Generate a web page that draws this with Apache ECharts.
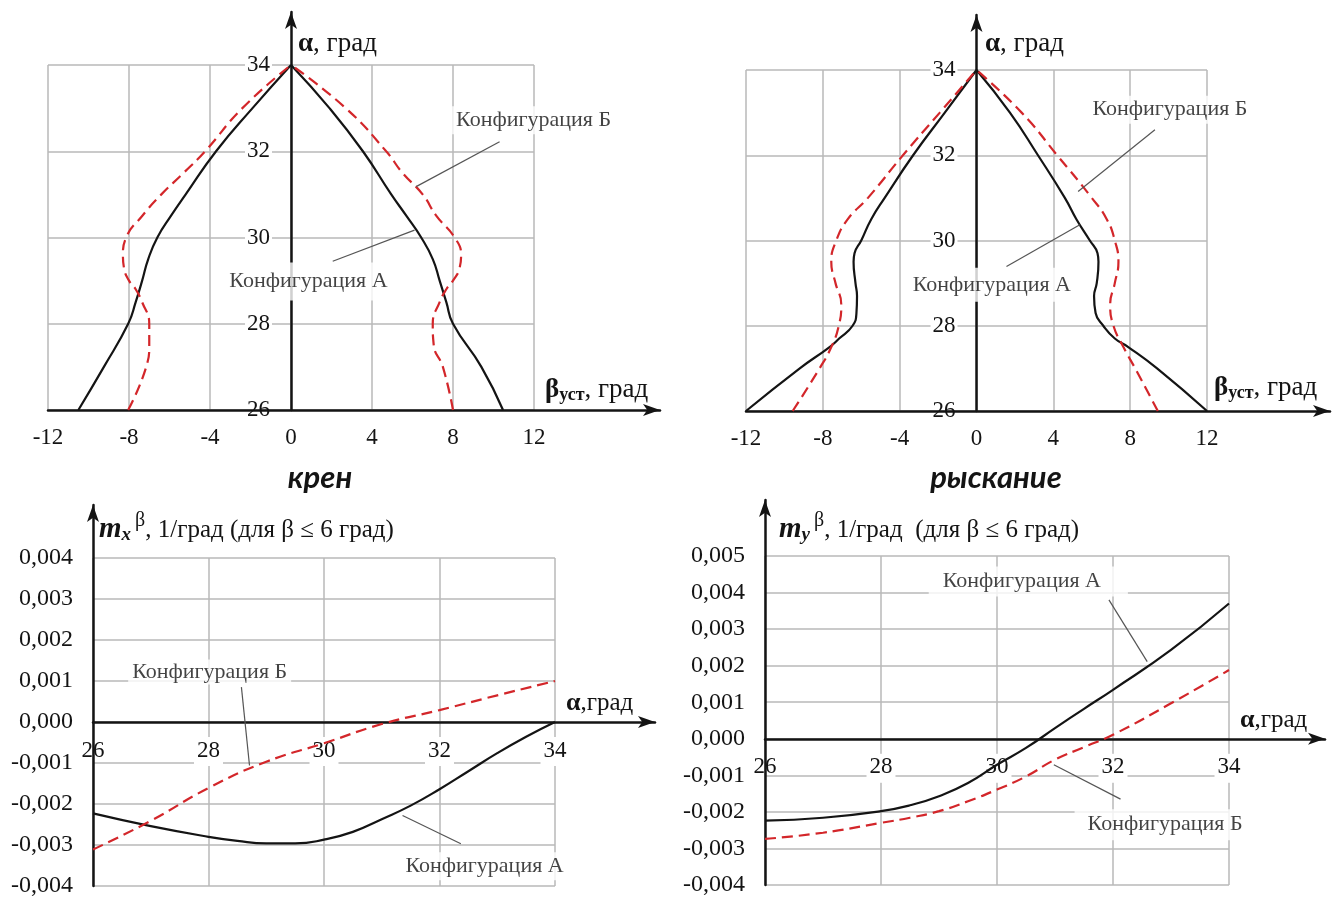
<!DOCTYPE html>
<html>
<head>
<meta charset="utf-8">
<script src="https://cdn.jsdelivr.net/npm/echarts@6/dist/echarts.min.js"></script>
<style>
  html, body { margin: 0; background: #fff; }
  #chart { width: 1341px; height: 899px; }
</style>
</head>
<body>
<div id="chart"></div>
<script>
const SERIF = '"Liberation Serif", "Times New Roman", serif';
const RED = '#d3262a';
const INK = '#141414';
const GRID_C = '#b8b8b8';

// ---- крен (top left): beta_уст vs alpha
const rollAlphaA = [26, 27, 28, 28.5, 29, 29.5, 30, 30.5, 31, 32, 33, 34];
const rollA_left = [-10.5, -9.24, -8.04, -7.67, -7.35, -7.05, -6.6, -5.93, -5.2, -3.7, -1.9, 0];
const rollA_right = [10.47, 9.4, 8.0, 7.67, 7.34, 7.0, 6.43, 5.7, 4.95, 3.55, 1.9, 0];
const rollAlphaB = [26, 27, 27.5, 28, 28.5, 28.8, 29, 29.3, 29.6, 30, 30.5, 31, 31.5, 32, 33, 34];
const rollB_left = [-8.04, -7.15, -7.0, -7.0, -7.35, -7.67, -8.0, -8.25, -8.3, -8.14, -7.35, -6.4, -5.3, -4.24, -2.4, 0];
const rollB_right = [8.0, 7.5, 7.05, 7.0, 7.34, 7.67, 8.0, 8.33, 8.4, 8.08, 7.18, 6.5, 5.5, 4.7, 2.7, 0];

// ---- рыскание (top right)
const yawAlphaA = [26, 27, 27.5, 27.7, 28, 28.3, 28.7, 29, 29.5, 29.7, 30, 30.5, 31, 32, 33, 34];
const yawA_left = [-12, -9.2, -7.65, -7.15, -6.45, -6.25, -6.22, -6.3, -6.4, -6.35, -6.0, -5.48, -4.78, -3.3, -1.65, 0];
const yawA_right = [12, 9.4, 7.9, 7.2, 6.6, 6.2, 6.12, 6.26, 6.35, 6.3, 5.9, 5.2, 4.6, 3.2, 1.74, 0];
const yawAlphaB = [26, 27, 27.5, 28, 28.5, 29, 29.5, 30, 30.5, 31, 32, 33, 34];
const yawB_left = [-9.57, -8.17, -7.56, -7.17, -7.04, -7.34, -7.56, -7.3, -6.7, -5.65, -3.83, -1.91, 0];
const yawB_right = [9.44, 8.26, 7.65, 7.13, 6.96, 7.2, 7.39, 7.2, 6.78, 6.0, 4.2, 2.35, 0];

// ---- m_x^beta (bottom left)
const mxAlphaA = [26, 27, 28, 28.5, 29, 29.5, 30, 30.5, 31, 31.5, 32, 32.5, 33, 33.5, 34];
const mxA = [-0.00223, -0.00254, -0.0028, -0.0029, -0.00296, -0.00296, -0.00287, -0.00268, -0.00237, -0.00204, -0.00164, -0.0012, -0.00076, -0.00036, 0];
const mxAlphaB = [26, 27, 28, 29, 30, 31, 32, 33, 34];
const mxB = [-0.00311, -0.00241, -0.00161, -0.00097, -0.00052, -0.00005, 0.00029, 0.00065, 0.001];

// ---- m_y^beta (bottom right)
const myAlpha = [26, 27, 28, 28.5, 29, 29.5, 30, 30.5, 31, 31.5, 32, 33, 34];
const myA = [-0.00224, -0.00216, -0.00198, -0.00182, -0.00157, -0.00121, -0.00071, -0.00025, 0.00029, 0.00082, 0.00134, 0.00243, 0.0037];
const myB = [-0.00274, -0.00257, -0.0023, -0.00216, -0.00198, -0.00171, -0.00139, -0.00103, -0.00057, -0.00023, 0.00011, 0.00097, 0.00188];

// ---- annotations (label anchors and leader lines, in data units)
const rollNotes = [{ name: 'Конфигурация Б', value: [11.98, 32.72] }, { name: 'Конфигурация А', value: [0.86, 28.98], pad: [8, 5] }];
const rollLeaders = [[[10.3, 32.22], [6.18, 31.18]], [[2.06, 29.45], [6.1, 30.17]]];
const yawNotes = [{ name: 'Конфигурация Б', value: [10.07, 33.07] }, { name: 'Конфигурация А', value: [0.8, 28.96], pad: [6, 5] }];
const yawLeaders = [[[9.29, 32.6], [5.29, 31.15]], [[1.56, 29.39], [5.38, 30.37]]];
const mxNotes = [{ name: 'Конфигурация Б', value: [28.02, 0.00122], pad: [3, 4, 0, 4] }, { name: 'Конфигурация А', value: [32.78, -0.00352] }];
const mxLeaders = [[[28.57, 0.00085], [28.71, -0.00106]], [[31.36, -0.00228], [32.37, -0.00297]]];
const myNotes = [{ name: 'Конфигурация А', value: [30.54, 0.0043], pad: [3, 27, 5, 14] }, { name: 'Конфигурация Б', value: [32.82, -0.00235], pad: [7, 4, 2, 13] }];
const myLeaders = [[[31.93, 0.0038], [32.59, 0.00211]], [[30.98, -0.00071], [32.13, -0.00165]]];

const panels = [
  { dataBox: { left: 48, top: 65, width: 486, height: 345 }, extBox: { left: 48, top: 12, width: 612, height: 398 }, xr: [-12, 12, 4], yr: [26, 34, 2], upper: true },
  { dataBox: { left: 746, top: 70, width: 461, height: 341 }, extBox: { left: 746, top: 15, width: 584, height: 396 }, xr: [-12, 12, 4], yr: [26, 34, 2], upper: true },
  { dataBox: { left: 93, top: 558, width: 462, height: 328 }, extBox: { left: 93, top: 505, width: 562, height: 381 }, xr: [26, 34, 2], yr: [-0.004, 0.004, 0.001], upper: false },
  { dataBox: { left: 765, top: 556, width: 464, height: 329 }, extBox: { left: 765, top: 500, width: 560, height: 385 }, xr: [26, 34, 2], yr: [-0.004, 0.005, 0.001], upper: false }
];

function pairs(xs, ys) { return xs.map((x, i) => [x, ys[i]]); }

const grid = [], xAxis = [], yAxis = [], series = [];

panels.forEach((p, i) => {
  const gi = 2 * i;
  grid.push(Object.assign({ outerBoundsMode: 'none', containLabel: false }, p.dataBox));
  grid.push(Object.assign({ outerBoundsMode: 'none', containLabel: false }, p.extBox));

  const wLab = { fontFamily: SERIF, fontSize: 23, color: INK, backgroundColor: '#fff', padding: [2, 3, 4, 3] };
  const nLab = { fontFamily: SERIF, fontSize: 23, color: INK, padding: [2, 3, 4, 3] };
  const first = p.upper ? p.yr[0] : p.xr[0];
  const boxed = v => (v === first ? '{n|' + v + '}' : '{w|' + v + '}');
  // where the zero line of the other axis sits, counted from the grid edge
  const zeroX = (0 - p.xr[0]) / (p.xr[1] - p.xr[0]) * p.dataBox.width;
  const zeroY = (0 - p.yr[0]) / (p.yr[1] - p.yr[0]) * p.dataBox.height;

  // data axes: grid lines + tick labels
  xAxis.push({
    type: 'value', gridIndex: gi, min: p.xr[0], max: p.xr[1], interval: p.xr[2],
    position: 'bottom', offset: p.upper ? 0 : -zeroY,
    axisLine: { show: false, onZero: false },
    axisTick: { show: false },
    splitLine: { show: true, lineStyle: { color: GRID_C, width: 1.5 } },
    axisLabel: p.upper
      ? { margin: 16, fontFamily: SERIF, fontSize: 23, color: INK }
      : { margin: 15, formatter: boxed, rich: { w: wLab, n: nLab } }
  });
  yAxis.push({
    type: 'value', gridIndex: gi, min: p.yr[0], max: p.yr[1], interval: p.yr[2],
    position: 'left', offset: p.upper ? -zeroX : 0,
    axisLine: { show: false, onZero: false },
    axisTick: { show: false },
    splitLine: { show: true, lineStyle: { color: GRID_C, width: 1.5 } },
    axisLabel: p.upper
      ? { margin: 19, formatter: boxed, rich: { w: Object.assign({}, wLab, { padding: [0, 2] }), n: Object.assign({}, nLab, { padding: [0, 2] }) } }
      : { margin: 20, fontFamily: SERIF, fontSize: 24, color: INK, formatter: v => v.toFixed(3).replace('.', ',') }
  });

  // extended axes: the black axis lines with arrows
  const xMax = p.xr[0] + (p.xr[1] - p.xr[0]) * p.extBox.width / p.dataBox.width;
  const yMax = p.yr[0] + (p.yr[1] - p.yr[0]) * p.extBox.height / p.dataBox.height;
  const arrowLine = { show: true, onZero: true, symbol: ['none', 'arrow'], symbolSize: [9, 17], lineStyle: { color: INK, width: 2.5 } };
  xAxis.push({ type: 'value', gridIndex: gi + 1, min: p.xr[0], max: xMax, axisLine: arrowLine, axisTick: { show: false }, axisLabel: { show: false }, splitLine: { show: false } });
  yAxis.push({ type: 'value', gridIndex: gi + 1, min: p.yr[0], max: yMax, axisLine: arrowLine, axisTick: { show: false }, axisLabel: { show: false }, splitLine: { show: false } });
});

function curve(panel, data, dashed) {
  return {
    type: 'line', xAxisIndex: 2 * panel, yAxisIndex: 2 * panel, data,
    symbol: 'none', smooth: 0.5, clip: false, silent: true, z: 3,
    lineStyle: dashed ? { color: RED, width: 2.2, type: [11, 6] } : { color: INK, width: 2.2 }
  };
}

// крен
series.push(curve(0, pairs(rollA_left, rollAlphaA), false));
series.push(curve(0, pairs(rollA_right, rollAlphaA), false));
series.push(curve(0, pairs(rollB_left, rollAlphaB), true));
series.push(curve(0, pairs(rollB_right, rollAlphaB), true));
// рыскание
series.push(curve(1, pairs(yawA_left, yawAlphaA), false));
series.push(curve(1, pairs(yawA_right, yawAlphaA), false));
series.push(curve(1, pairs(yawB_left, yawAlphaB), true));
series.push(curve(1, pairs(yawB_right, yawAlphaB), true));
// m_x, m_y
series.push(curve(2, pairs(mxAlphaA, mxA), false));
series.push(curve(2, pairs(mxAlphaB, mxB), true));
series.push(curve(3, pairs(myAlpha, myA), false));
series.push(curve(3, pairs(myAlpha, myB), true));

// annotations on the extended grids
function notes(panel, items, leaders) {
  leaders.forEach(seg => series.push({
    type: 'line', xAxisIndex: 2 * panel + 1, yAxisIndex: 2 * panel + 1, data: seg,
    symbol: 'none', silent: true, z: 4, lineStyle: { color: '#555', width: 1.2 }
  }));
  series.push({
    type: 'scatter', xAxisIndex: 2 * panel + 1, yAxisIndex: 2 * panel + 1, z: 5, silent: true,
    symbolSize: 1, itemStyle: { color: 'transparent' },
    data: items.map(it => ({
      name: it.name, value: it.value,
      label: {
        show: true, position: 'inside', formatter: '{b}',
        fontFamily: SERIF, fontSize: 22, color: INK,
        backgroundColor: '#fff', padding: it.pad || [3, 4]
      }
    }))
  });
}
notes(0, rollNotes, rollLeaders);
notes(1, yawNotes, yawLeaders);
notes(2, mxNotes, mxLeaders);
notes(3, myNotes, myLeaders);

// axis names and titles
const f = (size, weight, style) => ({ fontFamily: SERIF, fontSize: size, fontWeight: weight || 'normal', fontStyle: style || 'normal', fill: INK });
function label(x, y, text, rich) {
  return { type: 'text', x, y, z: 20, style: Object.assign({ text, rich, align: 'left', verticalAlign: 'middle' }, f(24)) };
}
const alphaRich = { a: Object.assign(f(27, 'bold'), { lineHeight: 32 }), t: Object.assign(f(27), { lineHeight: 32 }) };
const betaRich = {
  a: Object.assign(f(27, 'bold'), { lineHeight: 34 }),
  s: Object.assign(f(18, 'bold'), { lineHeight: 34, verticalAlign: 'bottom', padding: [0, 0, 3, 0] }),
  t: Object.assign(f(27), { lineHeight: 34 })
};
const alphaRich2 = { a: Object.assign(f(26, 'bold'), { lineHeight: 30 }), t: Object.assign(f(25), { lineHeight: 30 }) };
const mRich = {
  m: Object.assign(f(29, 'bold', 'italic'), { lineHeight: 38 }),
  s: Object.assign(f(19, 'bold', 'italic'), { lineHeight: 38, verticalAlign: 'bottom', padding: [0, 0, 4, 0] }),
  u: Object.assign(f(20), { lineHeight: 38, verticalAlign: 'top', padding: [0, 0, 0, 4] }),
  t: Object.assign(f(25), { lineHeight: 38 })
};
const titleStyle = { align: 'center', verticalAlign: 'middle', fontFamily: 'Lato, "Open Sans", sans-serif', fontSize: 31, fontWeight: 'bold', fontStyle: 'italic', fill: INK };

const graphic = [
  label(298, 44, '{a|α}{t|, град}', alphaRich),
  label(545, 390, '{a|β}{s|уст}{t|, град}', betaRich),
  label(985, 44, '{a|α}{t|, град}', alphaRich),
  label(1214, 388, '{a|β}{s|уст}{t|, град}', betaRich),
  label(99, 530, '{m|m}{s|x}{u|β}{t|, 1/град (для β ≤ 6 град)}', mRich),
  label(566, 703, '{a|α}{t|,град}', alphaRich2),
  label(779, 530, '{m|m}{s|y}{u|β}{t|, 1/град  (для β ≤ 6 град)}', mRich),
  label(1240, 720, '{a|α}{t|,град}', alphaRich2),
  { type: 'text', x: 320, y: 478, z: 20, style: Object.assign({ text: 'крен' }, titleStyle) },
  { type: 'text', x: 996, y: 478, z: 20, style: Object.assign({ text: 'рыскание' }, titleStyle) }
];

const chart = echarts.init(document.getElementById('chart'), null, { renderer: 'canvas' });
chart.setOption({
  backgroundColor: '#fff',
  animation: false,
  grid, xAxis, yAxis, series, graphic
});
window.addEventListener('resize', () => chart.resize());
</script>
</body>
</html>
